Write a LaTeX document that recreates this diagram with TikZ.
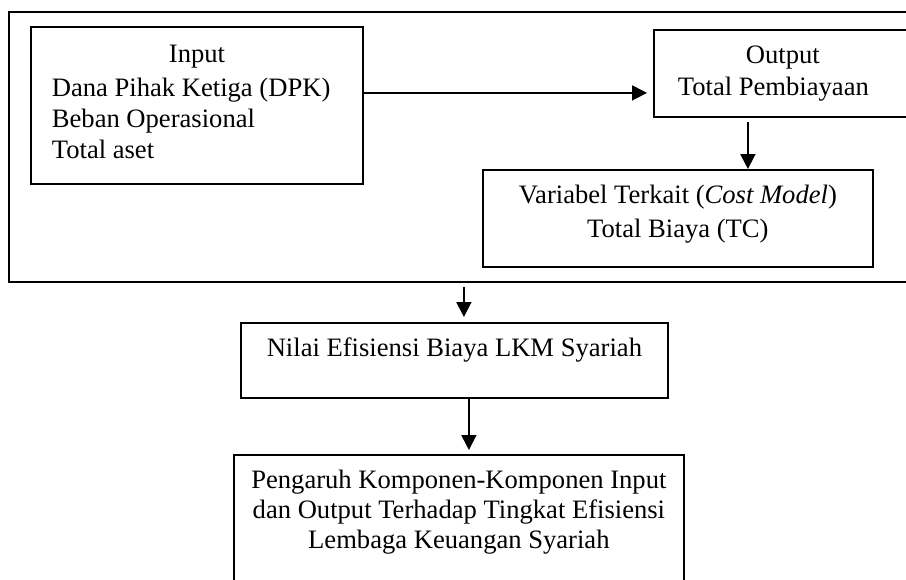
\documentclass[tikz,border=0pt]{standalone}
\usepackage{fontspec}
\setmainfont{Liberation Serif}
\usetikzlibrary{arrows.meta}
\newcommand{\boxtext}[3]{\begin{minipage}[c][#2][t]{#1}#3\end{minipage}}

\begin{document}
\begin{tikzpicture}[x=0.5pt, y=-0.5pt, line width=0.9pt,
   box/.style={rectangle, draw, inner sep=0pt, anchor=north west, font=\fontsize{13.3}{15.5}\selectfont},
   arr/.style={-{Triangle[length=7.5pt, width=7.5pt]}}]
  \useasboundingbox (0,0) rectangle (906,579);
  \node[box, minimum width=453.5pt, minimum height=135pt] (frame) at (8,11) {};
  \node[box] (inp) at (30,26) {\boxtext{166pt}{78.5pt}{\raggedright\leftskip=10.5pt
     \rule{0pt}{18pt}\hspace*{58.5pt}Input\\[1.5pt]
     Dana Pihak Ketiga (DPK)\\ Beban Operasional\\ Total aset}};
  \node[box] (out) at (653,29) {\boxtext{131pt}{43.5pt}{\raggedright
     \rule{0pt}{17pt}\hspace*{46pt}Output\\[0.5pt] \hspace*{12pt}Total Pembiayaan}};
  \node[box] (var) at (482,169) {\boxtext{195pt}{48.5pt}{\centering
     \rule{0pt}{17pt}Variabel Terkait (\textit{Cost Model})\\[1.5pt] Total Biaya (TC)}};
  \node[box] (nilai) at (240,322) {\boxtext{213.5pt}{37.5pt}{\centering
     \rule{0pt}{17pt}Nilai Efisiensi Biaya LKM Syariah}};
  \node[box] (res) at (233,454) {\boxtext{225pt}{68pt}{\centering
     \rule{0pt}{17pt}Pengaruh Komponen-Komponen Input\\[-0.5pt]
     dan Output Terhadap Tingkat Efisiensi\\[-0.5pt] Lembaga Keuangan Syariah}};
  \draw[arr, shorten >=3pt] ([yshift=6.25pt]inp.east) -- ([yshift=6.25pt]inp.east -| out.west);
  \draw[arr, shorten <=2pt] ([xshift=35pt]var.north |- out.south) -- ([xshift=35pt]var.north);
  \draw[arr, shorten <=2pt, shorten >=2.5pt] ([xshift=4.75pt]nilai.north |- frame.south) -- ([xshift=4.75pt]nilai.north);
  \draw[arr, shorten >=2pt] ([xshift=5pt]res.north |- nilai.south) -- ([xshift=5pt]res.north);
\end{tikzpicture}
\end{document}
